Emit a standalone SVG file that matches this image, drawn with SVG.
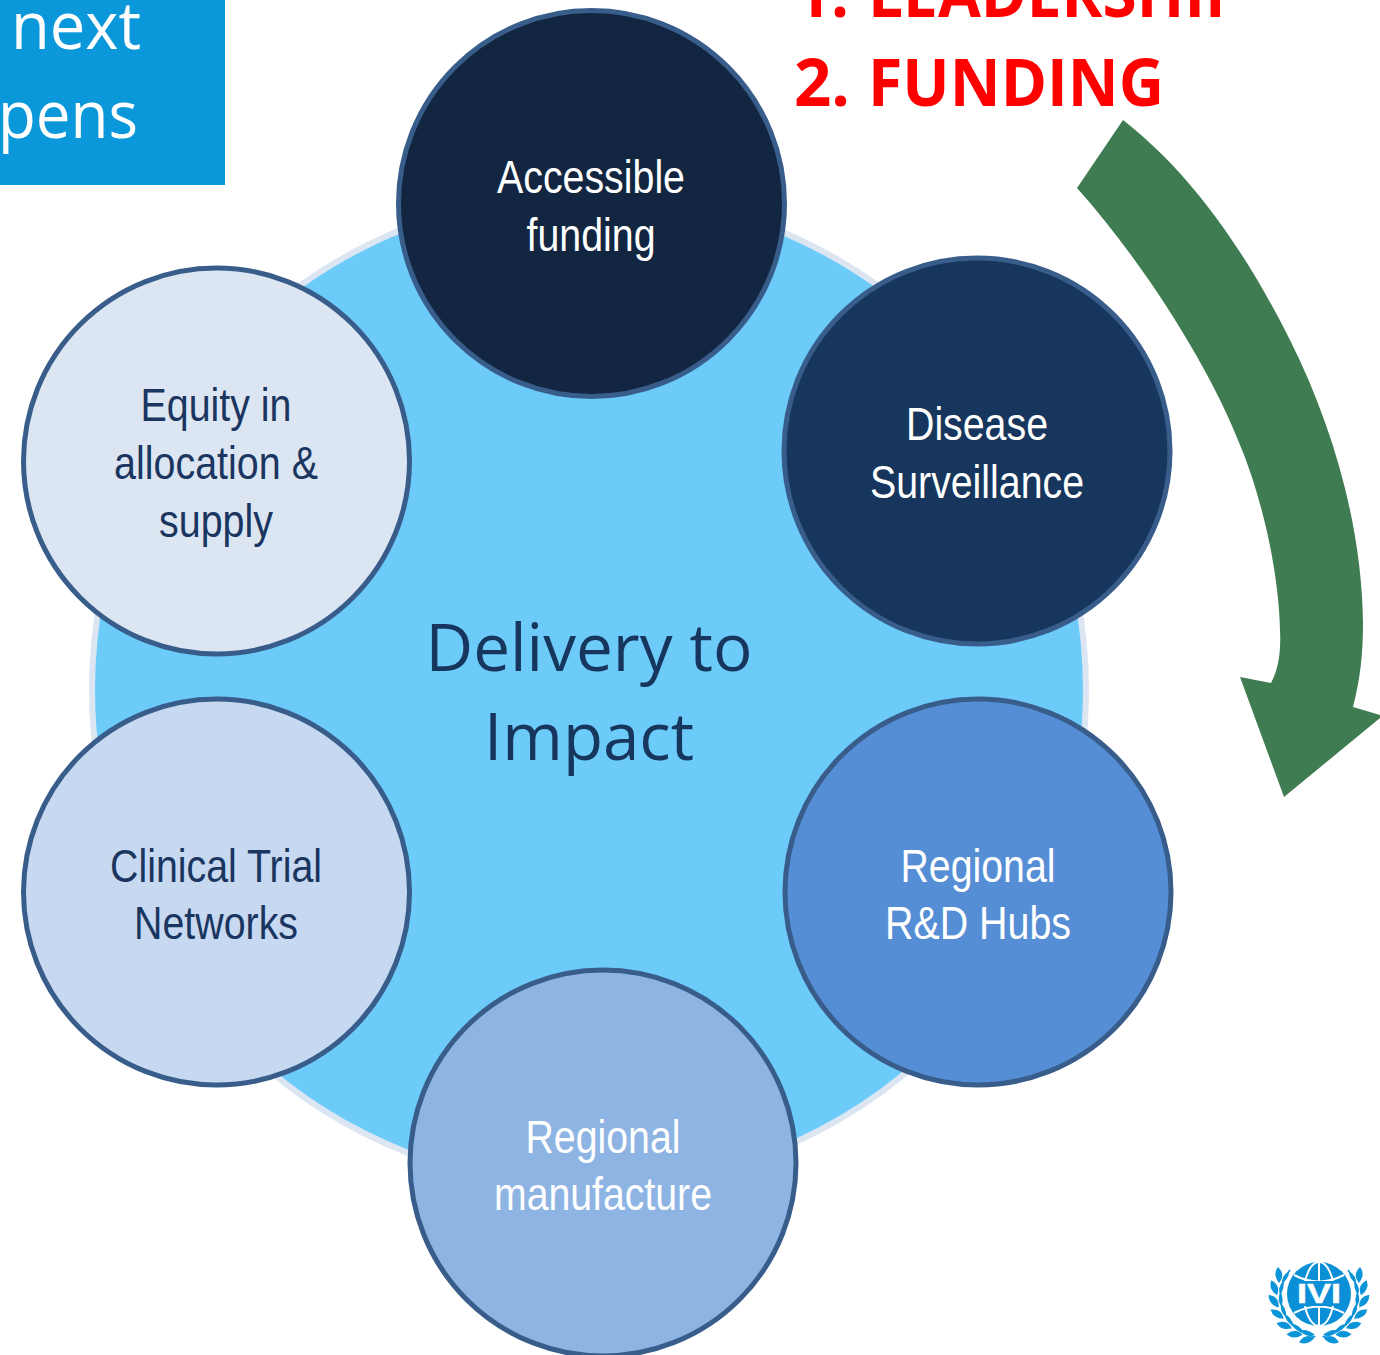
<svg xmlns="http://www.w3.org/2000/svg" width="1380" height="1355" viewBox="0 0 1380 1355">
<defs>
<g id="sprig" fill="#0b94d8">
<path d="M1319 1338Q1309 1334 1304 1344Q1313 1347 1319 1338Z"/>
<path d="M1319 1335Q1311 1330 1305 1332Q1311 1338 1319 1335Z"/>
</g>
<g id="wreath">
<path d="M1315.4 1336.8A41 41 0 0 1 1290 1270" fill="none" stroke="#0b94d8" stroke-width="1.6"/>
<use href="#sprig" transform="rotate(6 1319 1296)"/>
<use href="#sprig" transform="rotate(23 1319 1296)"/>
<use href="#sprig" transform="rotate(40 1319 1296)"/>
<use href="#sprig" transform="rotate(57 1319 1296)"/>
<use href="#sprig" transform="rotate(74 1319 1296)"/>
<use href="#sprig" transform="rotate(91 1319 1296)"/>
<use href="#sprig" transform="rotate(108 1319 1296)"/>
</g>
</defs>
<style>
.c{stroke:#385d8a;stroke-width:5}
.t{font-family:"Liberation Sans",Arial,sans-serif;font-size:46px;text-anchor:middle}
.w{fill:#fff}.d{fill:#1a3560}
.h{font-family:"Open Sans",sans-serif;font-size:65px;fill:#fff}
.r{font-family:"Open Sans",sans-serif;font-weight:700;font-size:67px;fill:#f00}
.m{font-family:"Open Sans",sans-serif;font-size:65px;fill:#17365d;text-anchor:middle}
.gl{fill:none;stroke:#fff;stroke-width:2}
</style>
<rect width="1380" height="1355" fill="#fff"/>
<g id="callout"><rect x="0" y="0" width="225" height="185" fill="#0a98db"/>
<text class="h" x="11" y="49" textLength="130" lengthAdjust="spacingAndGlyphs">next</text>
<text class="h" x="-2" y="138" textLength="140" lengthAdjust="spacingAndGlyphs">pens</text></g>
<g id="priorities">
<text class="r" x="795" y="17" textLength="54" lengthAdjust="spacingAndGlyphs">1.</text>
<text class="r" x="868" y="17" textLength="376" lengthAdjust="spacingAndGlyphs">LEADERSHIP</text>
<text class="r" x="794" y="106" textLength="56" lengthAdjust="spacingAndGlyphs">2.</text>
<text class="r" x="868" y="106" textLength="296" lengthAdjust="spacingAndGlyphs">FUNDING</text></g>
<g id="hub"><circle cx="589" cy="690" r="497" fill="#6dcbfa" stroke="#dce6f2" stroke-width="6"/>
<text class="m" x="589" y="671" textLength="327" lengthAdjust="spacingAndGlyphs">Delivery to</text>
<text class="m" x="589" y="760" textLength="210" lengthAdjust="spacingAndGlyphs">Impact</text></g>
<g id="connectors"><path d="M1123 120C1190 172 1245 250 1290 340C1335 430 1362 530 1363 623C1363 655 1360 680 1353 707L1380 715V718L1284 797L1240 677L1271 683C1279 668 1281 650 1280 630C1279 575 1263 500 1240 445C1213 375 1150 270 1077 188Z" fill="#407c52"/></g>
<g id="node-funding"><circle class="c" cx="591.5" cy="203.5" r="193" fill="#122641"/>
<text class="t w" x="591" y="193" textLength="188" lengthAdjust="spacingAndGlyphs">Accessible</text>
<text class="t w" x="591" y="251" textLength="129" lengthAdjust="spacingAndGlyphs">funding</text></g>
<g id="node-surveillance"><circle class="c" cx="977" cy="451" r="193" fill="#17365d"/>
<text class="t w" x="977" y="440" textLength="142" lengthAdjust="spacingAndGlyphs">Disease</text>
<text class="t w" x="977" y="498" textLength="214" lengthAdjust="spacingAndGlyphs">Surveillance</text></g>
<g id="node-hubs"><circle class="c" cx="978" cy="892" r="193" fill="#558ed5"/>
<text class="t w" x="978" y="882" textLength="155" lengthAdjust="spacingAndGlyphs">Regional</text>
<text class="t w" x="978" y="939" textLength="186" lengthAdjust="spacingAndGlyphs">R&amp;D Hubs</text></g>
<g id="node-manufacture"><circle class="c" cx="603" cy="1163" r="193" fill="#8eb4e3"/>
<text class="t w" x="603" y="1153" textLength="155" lengthAdjust="spacingAndGlyphs">Regional</text>
<text class="t w" x="603" y="1210" textLength="218" lengthAdjust="spacingAndGlyphs">manufacture</text></g>
<g id="node-trials"><circle class="c" cx="216.5" cy="892" r="193" fill="#c6d9f1"/>
<text class="t d" x="216" y="882" textLength="212" lengthAdjust="spacingAndGlyphs">Clinical Trial</text>
<text class="t d" x="216" y="939" textLength="164" lengthAdjust="spacingAndGlyphs">Networks</text></g>
<g id="node-equity"><circle class="c" cx="216.5" cy="461" r="193" fill="#dce6f2"/>
<text class="t d" x="216" y="421" textLength="151" lengthAdjust="spacingAndGlyphs">Equity in</text>
<text class="t d" x="216" y="479" textLength="204" lengthAdjust="spacingAndGlyphs">allocation &amp;</text>
<text class="t d" x="216" y="537" textLength="114" lengthAdjust="spacingAndGlyphs">supply</text></g>
<g id="logo">
<circle cx="1319" cy="1294" r="32" fill="#0b8fd6"/>
<g class="gl"><ellipse cx="1319" cy="1294" rx="15" ry="32"/><path d="M1319 1262V1326M1294 1275Q1319 1288 1344 1275M1294 1313Q1319 1300 1344 1313"/></g>
<rect x="1290" y="1281" width="58" height="25" fill="#0b8fd6"/>
<text x="1319" y="1303" font-family="'Liberation Sans',sans-serif" font-weight="700" font-size="27" fill="#fff" stroke="#fff" stroke-width=".5" text-anchor="middle" textLength="44" lengthAdjust="spacingAndGlyphs">IVI</text>
<use href="#wreath"/>
<use href="#wreath" transform="translate(2638 0) scale(-1 1)"/>
</g>
</svg>
